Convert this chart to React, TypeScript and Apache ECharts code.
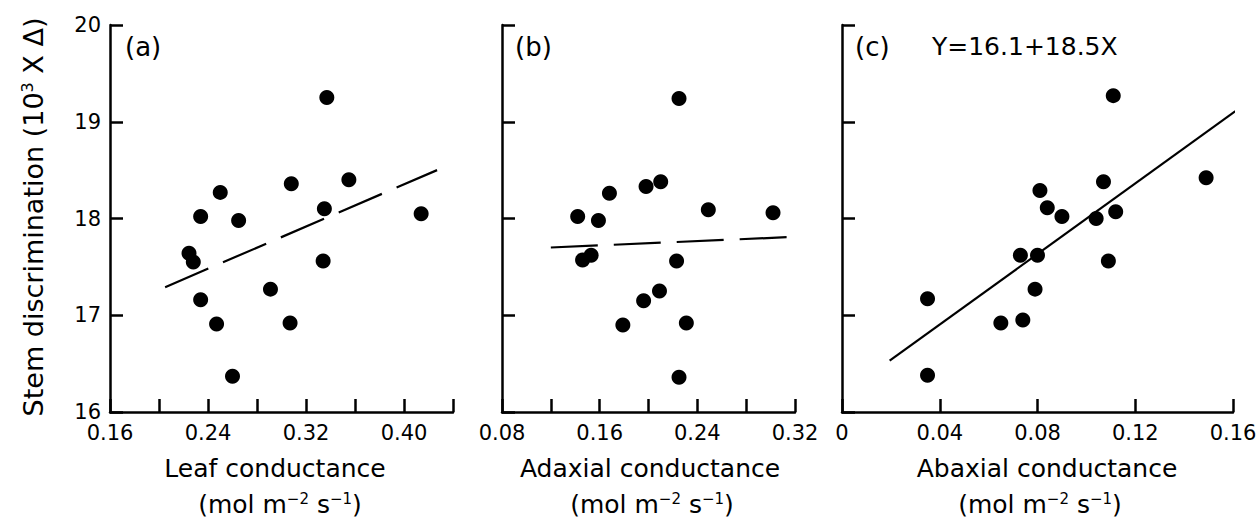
import React, { useEffect, useRef } from "react";
import * as echarts from "echarts";

const FONT = "'DejaVu Sans', 'Liberation Sans', sans-serif";

// Panel (a): leaf conductance
const leafX = [0.337, 0.25, 0.234, 0.265, 0.308, 0.335, 0.355, 0.414, 0.2245, 0.228, 0.334, 0.234, 0.291, 0.247, 0.307, 0.26];
const leafY = [19.25, 18.27, 18.02, 17.98, 18.36, 18.1, 18.4, 18.05, 17.64, 17.55, 17.56, 17.16, 17.27, 16.91, 16.92, 16.37];
const leafFitX = [0.205, 0.427];
const leafFitY = [17.29, 18.5];
const leafTickLabels = ["0.16", "0.24", "0.32", "0.40"];

// Panel (b): adaxial conductance
const adaxialX = [0.225, 0.168, 0.198, 0.21, 0.142, 0.159, 0.249, 0.302, 0.146, 0.153, 0.223, 0.196, 0.209, 0.179, 0.231, 0.225];
const adaxialY = [19.24, 18.26, 18.33, 18.38, 18.02, 17.98, 18.09, 18.06, 17.57, 17.62, 17.56, 17.15, 17.25, 16.9, 16.92, 16.36];
const adaxialFitX = [0.12, 0.319];
const adaxialFitY = [17.7, 17.81];
const adaxialTickLabels = ["0.08", "0.16", "0.24", "0.32"];

// Panel (c): abaxial conductance
const abaxialX = [0.111, 0.149, 0.107, 0.081, 0.084, 0.09, 0.104, 0.112, 0.073, 0.08, 0.109, 0.035, 0.079, 0.065, 0.074, 0.035];
const abaxialY = [19.27, 18.42, 18.38, 18.29, 18.11, 18.02, 18.0, 18.07, 17.62, 17.62, 17.56, 17.17, 17.27, 16.92, 16.95, 16.38];
const abaxialFitX = [0.0195, 0.161];
const abaxialFitY = [16.53, 19.11];
const abaxialTickLabels = ["0", "0.04", "0.08", "0.12", "0.16"];

const panelLetters = ["(a)", "(b)", "(c)"];
const xTitles = ["Leaf conductance", "Adaxial conductance", "Abaxial conductance"];
const equationText = "Y=16.1+18.5X";

const zip = (xs: number[], ys: number[]) => xs.map((x, i) => [x, ys[i]]);

const fmt = (labels: string[]) => (v: number) => {
  const r = Math.round(v * 100) / 100;
  const s0 = r === 0 ? "0" : r.toFixed(2);
  return labels.includes(s0) ? s0 : "";
};

export default function App() {
  const ref = useRef<HTMLDivElement>(null);
  useEffect(() => {
    if (!ref.current) return;
    const chart = echarts.init(ref.current, null, { renderer: "svg" });
    const black = "#000";
    const grids = [
      { left: 110, top: 25, width: 343, height: 387 },
      { left: 502, top: 25, width: 293, height: 387 },
      { left: 842, top: 25, width: 391, height: 387 },
    ];
    const xRanges = [
      [0.16, 0.44, leafTickLabels],
      [0.08, 0.32, adaxialTickLabels],
      [0, 0.16, abaxialTickLabels],
    ] as [number, number, string[]][];

    const axisLine = { show: true, onZero: false, lineStyle: { color: black, width: 2.5 } };
    const axisTick = { show: true, inside: true, length: 13, lineStyle: { color: black, width: 2.5 } };

    const xAxis = xRanges.map(([min, max, labels], i) => ({
      type: "value",
      gridIndex: i,
      min,
      max,
      interval: 0.04,
      axisLine,
      axisTick,
      splitLine: { show: false },
      axisLabel: {
        show: true,
        formatter: fmt(labels),
        color: black,
        fontSize: 21,
        fontFamily: FONT,
        fontWeight: 500,
        margin: 10,
        showMinLabel: true,
        showMaxLabel: true,
      },
    }));
    const yAxis = [0, 1, 2].map((i) => ({
      type: "value",
      gridIndex: i,
      min: 16,
      max: 20,
      interval: 1,
      axisLine,
      axisTick,
      splitLine: { show: false },
      axisLabel: {
        show: i === 0,
        color: black,
        fontSize: 21,
        fontFamily: FONT,
        margin: 9,
      },
    }));

    const scatter = (i: number, xs: number[], ys: number[]) => ({
      type: "scatter",
      xAxisIndex: i,
      yAxisIndex: i,
      data: zip(xs, ys),
      symbol: "circle",
      symbolSize: 15,
      itemStyle: { color: black, opacity: 1 },
      z: 3,
    });
    const fit = (i: number, xs: number[], ys: number[], dashed: boolean) => ({
      type: "line",
      xAxisIndex: i,
      yAxisIndex: i,
      data: zip(xs, ys),
      symbol: "none",
      showSymbol: false,
      lineStyle: { color: black, width: 2.2, opacity: 1, type: dashed ? [47, 16] : "solid" },
      z: 2,
    });

    const textStyle = (size: number) => ({ fontSize: size, fontFamily: FONT, fill: black });
    const supRich = {
      a: { fontSize: 25, fontFamily: FONT, color: black },
      s: { fontSize: 15, fontFamily: FONT, color: black, verticalAlign: "top" },
    };
    const unitText = "{a|(mol m}{s|−2}{a| s}{s|−1}{a|)}";
    const unitX = [280, 652, 1040];
    const titleX = [275, 650, 1047];
    const letterX = [125, 515, 855];

    const graphic: any[] = [];
    panelLetters.forEach((t, i) => {
      graphic.push({
        type: "text",
        x: letterX[i],
        y: 47,
        style: { text: t, ...textStyle(26), align: "left", verticalAlign: "middle", textAlign: "left", textVerticalAlign: "middle" },
      });
    });
    graphic.push({
      type: "text",
      x: 932,
      y: 46,
      style: { text: equationText, ...textStyle(25), align: "left", verticalAlign: "middle", textAlign: "left", textVerticalAlign: "middle" },
    });
    xTitles.forEach((t, i) => {
      graphic.push({
        type: "text",
        x: titleX[i],
        y: 468,
        style: { text: t, ...textStyle(25), align: "center", verticalAlign: "middle", textAlign: "center", textVerticalAlign: "middle" },
      });
      graphic.push({
        type: "text",
        x: unitX[i],
        y: 504,
        style: { text: unitText, rich: supRich, fill: black, align: "center", verticalAlign: "middle", textAlign: "center", textVerticalAlign: "middle" },
      });
    });
    graphic.push({
      type: "text",
      x: 33,
      y: 217,
      rotation: Math.PI / 2,
      style: {
        text: "{a|Stem discrimination (10}{s|3}{a| X Δ)}",
        rich: {
          a: { fontSize: 27, fontFamily: FONT, color: black },
          s: { fontSize: 16, fontFamily: FONT, color: black, verticalAlign: "top" },
        },
        fill: black,
        align: "center",
        verticalAlign: "middle",
        textAlign: "center",
        textVerticalAlign: "middle",
      },
    });

    chart.setOption({
      animation: false,
      backgroundColor: "#fff",
      grid: grids.map((g) => ({ ...g, containLabel: false })),
      xAxis,
      yAxis,
      series: [
        scatter(0, leafX, leafY),
        fit(0, leafFitX, leafFitY, true),
        scatter(1, adaxialX, adaxialY),
        fit(1, adaxialFitX, adaxialFitY, true),
        scatter(2, abaxialX, abaxialY),
        fit(2, abaxialFitX, abaxialFitY, false),
      ],
      graphic,
    } as any);
    return () => chart.dispose();
  }, []);
  return (
    <div
      ref={ref}
      style={{ position: "fixed", left: 0, top: 0, width: 1260, height: 519, background: "#fff" }}
    />
  );
}
